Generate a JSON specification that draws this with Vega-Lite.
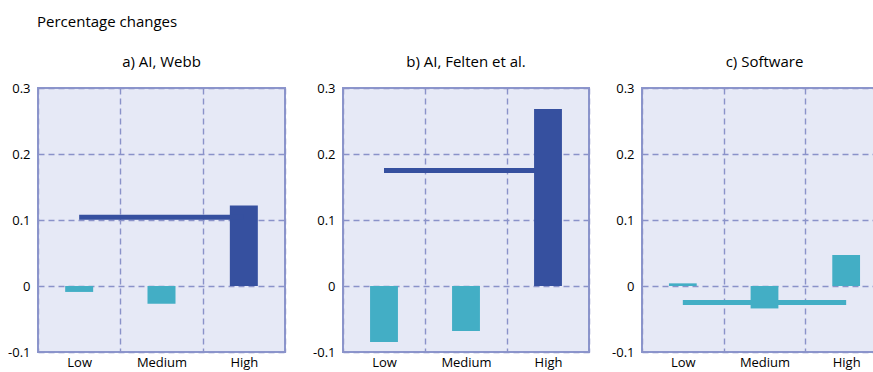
{
  "$schema": "https://vega.github.io/schema/vega-lite/v6.json",
  "padding": {"left": 0, "top": 15, "right": 0, "bottom": 0},
  "autosize": {"type": "pad"},
  "background": "white",
  "title": {"text": "Percentage changes", "anchor": "start", "dx": 37, "fontSize": 15, "fontWeight": "normal", "font": "Open Sans", "color": "#000000", "offset": 24, "frame": "bounds"},
  "datasets": {
    "bars": [
      {"panel": "a", "group": "Low", "value": -0.009, "sig": "no"},
      {"panel": "a", "group": "Medium", "value": -0.027, "sig": "no"},
      {"panel": "a", "group": "High", "value": 0.122, "sig": "yes"},
      {"panel": "b", "group": "Low", "value": -0.085, "sig": "no"},
      {"panel": "b", "group": "Medium", "value": -0.068, "sig": "no"},
      {"panel": "b", "group": "High", "value": 0.268, "sig": "yes"},
      {"panel": "c", "group": "Low", "value": 0.004, "sig": "no"},
      {"panel": "c", "group": "Medium", "value": -0.034, "sig": "no"},
      {"panel": "c", "group": "High", "value": 0.047, "sig": "no"}
    ],
    "avg": [
      {"panel": "a", "from": "Low", "to": "High", "value": 0.104, "sig": "yes"},
      {"panel": "b", "from": "Low", "to": "High", "value": 0.175, "sig": "yes"},
      {"panel": "c", "from": "Low", "to": "High", "value": -0.025, "sig": "no"}
    ]
  },
  "config": {
    "font": "Open Sans",
    "view": {"fill": "#E6E9F6", "stroke": "#8C96CC", "strokeWidth": 2},
    "axis": {"domain": false, "ticks": false, "labelFontSize": 13, "labelColor": "#000000", "gridColor": "#8A92C9", "gridDash": [6, 4], "gridWidth": 1.4, "title": null},
    "title": {"fontSize": 15, "fontWeight": "normal", "offset": 12, "frame": "group", "color": "#000000"}
  },
  "spacing": 20,
  "hconcat": [
    {
      "width": 247, "height": 264,
      "title": "a) AI, Webb",
      "layer": [
        {
          "data": {"name": "bars"},
          "transform": [{"filter": "datum.panel === 'a'"}],
          "mark": {"type": "bar", "width": {"band": 0.34}},
          "encoding": {
            "x": {"field": "group", "type": "nominal", "scale": {"domain": ["Low", "Medium", "High"], "paddingInner": 0, "paddingOuter": 0}, "axis": {"title": null, "labelAngle": 0, "grid": true, "tickBand": "extent", "labelPadding": 4}},
            "y": {"field": "value", "type": "quantitative", "scale": {"domain": [-0.1, 0.3], "nice": false, "zero": false}, "axis": {"title": null, "values": [-0.1, 0, 0.1, 0.2, 0.3], "format": ".1~f", "labelExpr": "replace(datum.label, '\u2212', '-')", "minExtent": 37, "labelPadding": 8}},
            "color": {"field": "sig", "type": "nominal", "scale": {"domain": ["yes", "no"], "range": ["#36509F", "#43AEC5"]}, "legend": null}
          }
        },
        {
          "data": {"name": "avg"},
          "transform": [{"filter": "datum.panel === 'a'"}],
          "mark": {"type": "rule", "strokeWidth": 5},
          "encoding": {
            "x": {"field": "from", "type": "nominal", "scale": {"domain": ["Low", "Medium", "High"]}},
            "x2": {"field": "to"},
            "y": {"field": "value", "type": "quantitative", "axis": {"title": null}},
            "color": {"field": "sig", "type": "nominal", "legend": null}
          }
        }
      ]
    },
    {
      "width": 246, "height": 264,
      "title": "b) AI, Felten et al.",
      "layer": [
        {
          "data": {"name": "bars"},
          "transform": [{"filter": "datum.panel === 'b'"}],
          "mark": {"type": "bar", "width": {"band": 0.34}},
          "encoding": {
            "x": {"field": "group", "type": "nominal", "scale": {"domain": ["Low", "Medium", "High"], "paddingInner": 0, "paddingOuter": 0}, "axis": {"title": null, "labelAngle": 0, "grid": true, "tickBand": "extent", "labelPadding": 4}},
            "y": {"field": "value", "type": "quantitative", "scale": {"domain": [-0.1, 0.3], "nice": false, "zero": false}, "axis": {"title": null, "values": [-0.1, 0, 0.1, 0.2, 0.3], "format": ".1~f", "labelExpr": "replace(datum.label, '\u2212', '-')", "minExtent": 36, "labelPadding": 8}},
            "color": {"field": "sig", "type": "nominal", "scale": {"domain": ["yes", "no"], "range": ["#36509F", "#43AEC5"]}, "legend": null}
          }
        },
        {
          "data": {"name": "avg"},
          "transform": [{"filter": "datum.panel === 'b'"}],
          "mark": {"type": "rule", "strokeWidth": 5},
          "encoding": {
            "x": {"field": "from", "type": "nominal", "scale": {"domain": ["Low", "Medium", "High"]}},
            "x2": {"field": "to"},
            "y": {"field": "value", "type": "quantitative", "axis": {"title": null}},
            "color": {"field": "sig", "type": "nominal", "legend": null}
          }
        }
      ]
    },
    {
      "width": 245, "height": 264,
      "title": "c) Software",
      "layer": [
        {
          "data": {"name": "bars"},
          "transform": [{"filter": "datum.panel === 'c'"}],
          "mark": {"type": "bar", "width": {"band": 0.34}},
          "encoding": {
            "x": {"field": "group", "type": "nominal", "scale": {"domain": ["Low", "Medium", "High"], "paddingInner": 0, "paddingOuter": 0}, "axis": {"title": null, "labelAngle": 0, "grid": true, "tickBand": "extent", "labelPadding": 4}},
            "y": {"field": "value", "type": "quantitative", "scale": {"domain": [-0.1, 0.3], "nice": false, "zero": false}, "axis": {"title": null, "values": [-0.1, 0, 0.1, 0.2, 0.3], "format": ".1~f", "labelExpr": "replace(datum.label, '\u2212', '-')", "minExtent": 30, "labelPadding": 8}},
            "color": {"field": "sig", "type": "nominal", "scale": {"domain": ["yes", "no"], "range": ["#36509F", "#43AEC5"]}, "legend": null}
          }
        },
        {
          "data": {"name": "avg"},
          "transform": [{"filter": "datum.panel === 'c'"}],
          "mark": {"type": "rule", "strokeWidth": 5},
          "encoding": {
            "x": {"field": "from", "type": "nominal", "scale": {"domain": ["Low", "Medium", "High"]}},
            "x2": {"field": "to"},
            "y": {"field": "value", "type": "quantitative", "axis": {"title": null}},
            "color": {"field": "sig", "type": "nominal", "legend": null}
          }
        }
      ]
    }
  ]
}
